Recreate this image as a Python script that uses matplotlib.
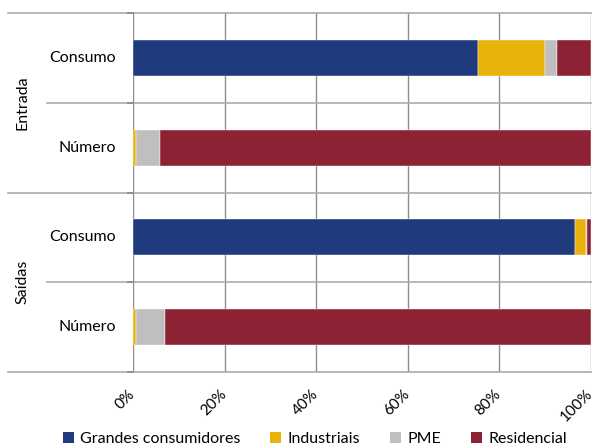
import matplotlib
matplotlib.use("Agg")
import matplotlib.pyplot as plt
import matplotlib.transforms as mtransforms
from matplotlib.patches import Patch

plt.rcParams['font.family'] = ['Lato', 'DejaVu Sans']

# Shares (%) by customer segment
groups = ["Entrada", "Saídas"]
measures = ["Consumo", "Número"]
segments = ["Grandes consumidores", "Industriais", "PME", "Residencial"]
colors = ["#1F3B7D", "#E9B20B", "#BFBFBF", "#8C2233"]

# rows: Entrada-Consumo, Entrada-Número, Saídas-Consumo, Saídas-Número
grandes = [75.3, 0.1, 96.6, 0.1]
industriais = [14.7, 0.6, 2.2, 0.6]
pme = [2.6, 5.1, 0.25, 6.2]
residencial = [7.4, 94.2, 0.95, 93.1]
series = [grandes, industriais, pme, residencial]

xticks = [0, 20, 40, 60, 80, 100]
xticklabels = ["0%", "20%", "40%", "60%", "80%", "100%"]

fig = plt.figure(figsize=(5.96, 4.48), dpi=100)
ax = fig.add_axes([133 / 596, 1 - 372 / 448, 458 / 596, 359 / 448])

rows = list(range(len(groups) * len(measures)))
left = [0.0] * len(rows)
for vals, col, name in zip(series, colors, segments):
    ax.barh(rows, vals, left=left, height=0.4, color=col, edgecolor="white",
            linewidth=0.3, label=name, zorder=3)
    left = [l + v for l, v in zip(left, vals)]

ax.set_xlim(0, 100)
ax.set_ylim(len(rows) - 0.5, -0.5)
ax.set_xticks(xticks)
ax.set_xticklabels([])
ax.tick_params(axis="x", length=0)
ax.set_yticks([])
for s in ax.spines.values():
    s.set_visible(False)

# vertical gridlines
for xv in xticks:
    ax.axvline(xv, color="#8E8E8E", lw=1.0, zorder=1)

# category separators (multi-level axis)
trans = mtransforms.blended_transform_factory(ax.transAxes, ax.transData)
outer_x = (8 - 133) / 458
inner_x = (47 - 133) / 458
for k in range(len(rows) + 1):
    yv = k - 0.5
    x0 = outer_x if k % 2 == 0 else inner_x
    ax.plot([x0, 1.0], [yv, yv], transform=trans, color="#ABABAB", lw=1.2,
            clip_on=False, zorder=2)
    ax.plot([-0.012, 0.0], [yv, yv], transform=trans, color="#8E8E8E", lw=1.4,
            clip_on=False, zorder=2)

# inner category labels
for i, r in enumerate(rows):
    ax.text((116 - 133) / 458, r, measures[i % 2], transform=trans,
            ha="right", va="center", fontsize=11.5)

# outer group labels
for g, name in enumerate(groups):
    ax.text((22 - 133) / 458, g * 2 + 0.5, name, transform=trans, rotation=90,
            ha="center", va="center", fontsize=11.5)

# rotated percentage labels
for xv, lab in zip(xticks, xticklabels):
    off = mtransforms.offset_copy(ax.get_xaxis_transform(), fig=fig, x=-0.3, y=-14.5,
                                  units="points")
    ax.text(xv, 0, lab, transform=off, rotation=45, rotation_mode="anchor",
            ha="right", va="center", fontsize=11)

handles = [Patch(facecolor=c, edgecolor="none", label=n) for c, n in zip(colors, segments)]
fig.legend(handles=handles, loc="center", bbox_to_anchor=(0.528, 1 - 439 / 448),
           ncol=4, frameon=False, fontsize=11.5, handlelength=0.7, handleheight=0.7,
           handletextpad=0.4, columnspacing=1.85)

fig.savefig("out.png", dpi=100)
